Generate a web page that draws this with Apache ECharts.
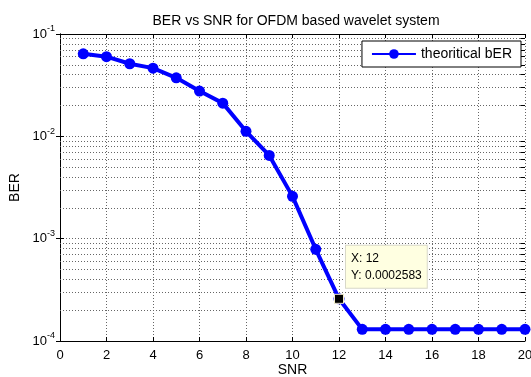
<!DOCTYPE html>
<html>
<head>
<meta charset="utf-8">
<script src="https://cdn.jsdelivr.net/npm/echarts@6/dist/echarts.min.js"></script>
<style>
  html, body { margin: 0; padding: 0; background: #fff; }
  #chart { width: 531px; height: 377px; }
</style>
</head>
<body>
<div id="chart"></div>
<script>
// values
const snr = [1, 2, 3, 4, 5, 6, 7, 8, 9, 10, 11, 12, 13, 14, 15, 16, 17, 18, 19, 20];
const ber = [0.064, 0.060, 0.0512, 0.0464, 0.0373, 0.0277, 0.0211, 0.0112, 0.0065, 0.00259,
             0.000787, 0.0002583, 0.00013, 0.00013, 0.00013, 0.00013, 0.00013, 0.00013, 0.00013, 0.00013];
const tipPoint = [12, 0.0002583];
const xTicks = [0, 2, 4, 6, 8, 10, 12, 14, 16, 18, 20];
const decades = [-4, -3, -2];
const mantissas = [2, 3, 4, 5, 6, 7, 8, 9];

const font = "'Liberation Sans', Arial, sans-serif";
const minorValues = [];
decades.forEach(d => mantissas.forEach(m => minorValues.push(m * Math.pow(10, d))));

const gridLine = { color: "#666", type: [1, 2], width: 1 };
const tickLine = { color: "#000", type: "solid", width: 1 };

// minor log grid lines across the plot, plus short inward ticks on the right edge
const minorGrid = minorValues.map(v => [
  { coord: [0, v], lineStyle: gridLine }, { coord: [20, v] }
]);
const rightTicks = minorValues.map(v => [
  { coord: [19.8, v], lineStyle: tickLine }, { coord: [20, v] }
]);

const chart = echarts.init(document.getElementById("chart"), null, { renderer: "canvas" });
chart.setOption({
  backgroundColor: "#fff",
  animation: false,
  textStyle: { fontFamily: font },
  title: {
    text: "BER vs SNR for OFDM based wavelet system",
    left: 291, top: 9, textAlign: "center",
    textStyle: { fontSize: 14, fontWeight: "normal", color: "#000", fontFamily: font }
  },
  legend: {
    data: ["theoritical bER"],
    right: 10, top: 41,
    backgroundColor: "#fff", borderColor: "#000", borderWidth: 1,
    padding: [6, 9, 6, 9],
    itemWidth: 44, itemHeight: 12, itemGap: 5,
    textStyle: { fontSize: 14, color: "#000", fontFamily: font }
  },
  grid: { left: 60, right: 6, top: 34, bottom: 36, outerBoundsMode: "none", containLabel: false },
  xAxis: [{
    type: "value", min: 0, max: 20, interval: 2,
    name: "SNR", nameLocation: "middle", nameGap: 22, nameMoveOverlap: false,
    nameTextStyle: { fontSize: 14, color: "#000" },
    axisLine: { lineStyle: { color: "#000", width: 1 } },
    axisTick: { inside: true, length: 4, lineStyle: { color: "#000" } },
    axisLabel: { fontSize: 13, color: "#000", margin: 8,
      formatter: v => xTicks.includes(v) ? String(v) : "" },
    splitLine: { show: true, lineStyle: gridLine }
  }, {
    type: "value", min: 0, max: 20, interval: 2, position: "top",
    axisLine: { lineStyle: { color: "#000" } },
    axisTick: { inside: true, length: 4, lineStyle: { color: "#000" } },
    axisLabel: { show: false }, splitLine: { show: false }
  }],
  yAxis: [{
    type: "log", logBase: 10, min: 1e-4, max: 1e-1,
    name: "BER", nameLocation: "middle", nameGap: 38, nameMoveOverlap: false,
    nameTextStyle: { fontSize: 14, color: "#000" },
    axisLine: { show: true, lineStyle: { color: "#000" } },
    axisTick: { inside: true, length: 4, lineStyle: { color: "#000" } },
    axisLabel: {
      color: "#000", margin: 5,
      formatter: v => "{b|10}{s|" + Math.round(Math.log10(v)) + "}",
      rich: {
        b: { fontSize: 13, color: "#000", fontFamily: font },
        s: { fontSize: 9, color: "#000", fontFamily: font, padding: [0, 0, 10, 0] }
      }
    },
    splitLine: { show: true, lineStyle: gridLine }
  }, {
    type: "log", logBase: 10, min: 1e-4, max: 1e-1, position: "right",
    axisLine: { show: true, lineStyle: { color: "#000" } },
    axisTick: { inside: true, length: 4, lineStyle: { color: "#000" } },
    axisLabel: { show: false }, splitLine: { show: false }
  }],
  series: [{
    name: "theoritical bER",
    type: "line",
    data: snr.map((x, i) => [x, ber[i]]),
    symbol: "circle", symbolSize: 11,
    lineStyle: { color: "#0000ff", width: 4 },
    itemStyle: { color: "#0000ff" },
    z: 5,
    markLine: {
      silent: true, symbol: "none", label: { show: false }, animation: false,
      z: 1,
      data: minorGrid.concat(rightTicks)
    },
    markPoint: {
      silent: true, z: 10,
      symbol: "rect", symbolSize: 9,
      itemStyle: { color: "#000", borderColor: "#f5f0c8", borderWidth: 1 },
      data: [{
        coord: tipPoint,
        label: {
          show: true,
          position: [12, -48],
          align: "left", verticalAlign: "top",
          formatter: "X: " + tipPoint[0] + "\nY: " + tipPoint[1],
          fontSize: 12, color: "#000", fontFamily: font, lineHeight: 17,
          backgroundColor: "#ffffe1", borderColor: "#d8d8c8", borderWidth: 1,
          padding: [4, 5, 4, 5]
        }
      }]
    }
  }]
});
</script>
</body>
</html>
